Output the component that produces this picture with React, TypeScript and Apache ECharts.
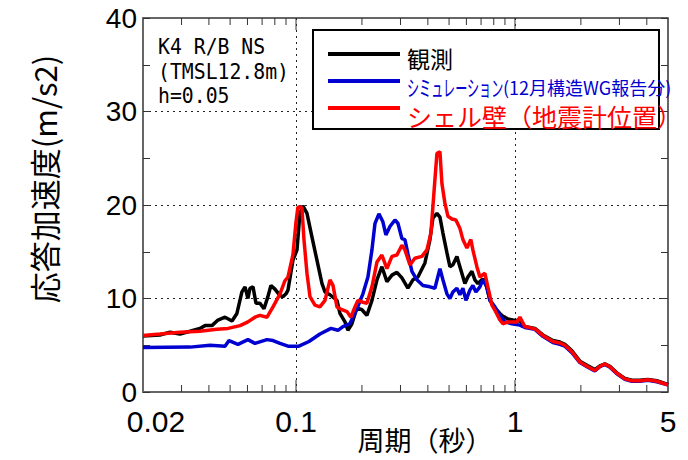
import React, { useEffect, useRef } from "react";
import * as echarts from "echarts";

// ---- data ----
const X_TICK_LABELS = ["0.02", "0.1", "1", "5"];
const Y_TICK_LABELS = [0, 10, 20, 30, 40];
const X_MINOR_TICKS = [0.03, 0.04, 0.05, 0.06, 0.07, 0.08, 0.09, 0.2, 0.3, 0.4, 0.5, 0.6, 0.7, 0.8, 0.9, 2, 3, 4];
const X_MAJOR_TICKS = [0.1, 1];

const OBS_T = [0.02, 0.0239, 0.0266, 0.0295, 0.0328, 0.0364, 0.0384, 0.0413, 0.044, 0.0474, 0.051, 0.0537, 0.0566, 0.0585, 0.0603, 0.0616, 0.0636, 0.0656, 0.0684, 0.0714, 0.0744, 0.0768, 0.0801, 0.0845, 0.0872, 0.09, 0.0919, 0.0968, 0.101, 0.1042, 0.1075, 0.1122, 0.1182, 0.1246, 0.1314, 0.1356, 0.1429, 0.1538, 0.1587, 0.1673, 0.1726, 0.18, 0.1897, 0.2, 0.2107, 0.2222, 0.2342, 0.2467, 0.2601, 0.2742, 0.2889, 0.3045, 0.3243, 0.3419, 0.3603, 0.3879, 0.4089, 0.4218, 0.44, 0.4542, 0.4687, 0.4888, 0.5045, 0.5207, 0.543, 0.5604, 0.5905, 0.6095, 0.6357, 0.6561, 0.6772, 0.7061, 0.7289, 0.7685, 0.8096, 0.8533, 0.8807, 0.8995, 0.9283, 0.9784, 1.053, 1.11, 1.233, 1.341, 1.49, 1.604, 1.69, 1.82, 1.979, 2.153, 2.317, 2.443, 2.574, 2.713, 2.92, 3.177, 3.42, 3.719, 4.045, 4.446, 4.94, 5.0];
const OBS_V = [6.0, 6.1, 6.4, 6.2, 6.5, 6.8, 7.1, 7.1, 7.7, 8.0, 7.6, 8.4, 10.7, 11.25, 10.0, 11.1, 11.25, 9.5, 9.5, 8.9, 10.2, 11.4, 11.0, 10.3, 10.2, 10.5, 10.9, 14.1, 15.2, 19.1, 19.9, 19.1, 16.6, 14.1, 11.6, 10.7, 10.4, 9.8, 8.4, 7.5, 6.6, 7.3, 9.0, 8.8, 8.2, 9.8, 12.0, 13.4, 11.8, 12.5, 12.8, 12.2, 11.1, 12.0, 12.3, 13.8, 16.3, 18.6, 19.1, 18.7, 17.0, 14.9, 13.4, 13.6, 14.5, 13.4, 11.6, 12.3, 12.9, 12.0, 11.6, 12.0, 12.0, 9.8, 9.0, 8.4, 8.1, 8.0, 7.8, 7.7, 7.6, 7.0, 6.8, 6.1, 5.5, 5.35, 5.1, 4.4, 3.3, 2.8, 2.4, 2.8, 3.0, 2.75, 2.05, 1.45, 1.25, 1.25, 1.35, 1.2, 0.85, 0.8];

const SIM_T = [0.02, 0.0328, 0.0405, 0.0474, 0.0494, 0.0543, 0.0603, 0.0649, 0.0737, 0.0785, 0.0845, 0.0919, 0.1031, 0.1146, 0.1286, 0.1444, 0.1554, 0.1638, 0.1762, 0.1897, 0.2021, 0.213, 0.2222, 0.2293, 0.2391, 0.2493, 0.2573, 0.2685, 0.283, 0.292, 0.3045, 0.3143, 0.3243, 0.3383, 0.3565, 0.3798, 0.4089, 0.4308, 0.4542, 0.4687, 0.4888, 0.5045, 0.5207, 0.543, 0.5604, 0.5784, 0.5969, 0.6223, 0.6423, 0.663, 0.6915, 0.7136, 0.7441, 0.7685, 0.8096, 0.8533, 0.8995, 0.9681, 1.053, 1.11, 1.233, 1.341, 1.49, 1.604, 1.69, 1.82, 1.979, 2.153, 2.317, 2.443, 2.574, 2.713, 2.92, 3.177, 3.42, 3.719, 4.045, 4.446, 4.94, 5.0];
const SIM_V = [4.75, 4.8, 5.0, 4.9, 5.5, 5.1, 5.6, 5.2, 5.6, 5.5, 5.2, 4.9, 4.9, 5.4, 6.2, 6.8, 6.6, 7.0, 7.3, 8.9, 10.5, 12.3, 15.2, 18.0, 19.05, 18.2, 16.8, 17.7, 18.4, 18.05, 16.4, 16.3, 14.8, 12.9, 12.0, 11.4, 11.25, 11.1, 13.2, 12.0, 10.5, 10.0, 10.7, 11.1, 10.4, 11.1, 9.8, 10.9, 11.4, 10.7, 11.25, 12.0, 11.25, 9.8, 9.1, 8.2, 7.5, 7.3, 7.15, 6.9, 6.7, 5.95, 5.3, 5.1, 4.9, 4.2, 3.15, 2.65, 2.25, 2.7, 2.95, 2.65, 1.95, 1.35, 1.15, 1.15, 1.25, 1.1, 0.8, 0.75];

const SHELL_T = [0.02, 0.0239, 0.0295, 0.0364, 0.0435, 0.0489, 0.0555, 0.0603, 0.0649, 0.0684, 0.0737, 0.0785, 0.0845, 0.089, 0.0919, 0.0968, 0.0999, 0.102, 0.1064, 0.1087, 0.1122, 0.1158, 0.122, 0.1286, 0.1356, 0.1429, 0.1475, 0.1538, 0.1621, 0.1708, 0.1781, 0.1858, 0.1917, 0.2021, 0.2107, 0.2222, 0.2342, 0.2467, 0.2601, 0.2742, 0.2889, 0.3045, 0.3143, 0.3313, 0.3491, 0.3758, 0.3961, 0.4132, 0.4264, 0.44, 0.4542, 0.4638, 0.4786, 0.494, 0.5152, 0.5374, 0.5604, 0.5784, 0.6032, 0.6288, 0.6423, 0.6699, 0.6915, 0.7289, 0.752, 0.7846, 0.8096, 0.8533, 0.8807, 0.9283, 1.02, 1.053, 1.11, 1.233, 1.341, 1.49, 1.604, 1.69, 1.82, 1.979, 2.153, 2.317, 2.443, 2.574, 2.713, 2.92, 3.177, 3.42, 3.719, 4.045, 4.446, 4.94, 5.0];
const SHELL_V = [6.05, 6.2, 6.4, 6.5, 6.7, 6.8, 7.1, 7.5, 8.0, 8.2, 8.0, 9.1, 10.5, 11.9, 12.3, 14.7, 18.1, 19.8, 19.7, 16.3, 12.7, 10.2, 9.3, 9.1, 9.8, 12.0, 11.4, 9.1, 8.8, 8.6, 8.0, 9.1, 9.8, 9.6, 9.5, 11.25, 13.9, 14.65, 13.2, 14.5, 14.65, 15.7, 15.2, 13.6, 14.3, 14.5, 15.2, 17.0, 21.3, 25.5, 25.7, 22.3, 20.2, 18.8, 18.5, 18.4, 17.5, 16.3, 15.4, 16.3, 15.2, 13.4, 12.3, 12.7, 11.25, 9.3, 8.75, 7.7, 7.3, 7.5, 7.5, 8.0, 7.0, 6.75, 6.05, 5.4, 5.25, 5.0, 4.3, 3.2, 2.7, 2.3, 2.75, 3.0, 2.7, 2.0, 1.4, 1.2, 1.2, 1.3, 1.15, 0.8, 0.75];

const SERIES_NAMES = ["観測", "シミュレーション(12月構造WG報告分)", "シェル壁（地震計位置）"];
const COLORS = ["#000000", "#0000d0", "#ff0000"];

const NUM_FONT = '"Liberation Sans", Arial, sans-serif';
const CJK_FONT = '"Noto Sans CJK JP", "Noto Sans", sans-serif';
const MONO_FONT = '"DejaVu Sans Mono", "Liberation Mono", monospace';

const zip = (t: number[], v: number[]) => t.map((x, i) => [x, v[i]]);

export default function App() {
  const ref = useRef<HTMLDivElement>(null);

  useEffect(() => {
    if (!ref.current) return;
    const chart = echarts.init(ref.current, null, { renderer: "svg" });
    const yMin = Y_TICK_LABELS[0];
    const yMax = Y_TICK_LABELS[Y_TICK_LABELS.length - 1];
    const tickData = [
      ...X_MINOR_TICKS.map((v) => [v, yMin, 0]),
      ...X_MAJOR_TICKS.map((v) => [v, yMin, 1]),
    ];
    const dash = { color: "#222", width: 1, type: [2, 4] as any };

    const option: any = {
      animation: false,
      backgroundColor: "#ffffff",
      grid: {
        left: 143,
        right: 20,
        top: 18,
        bottom: 68,
        show: true,
        borderColor: "#333",
        borderWidth: 1.5,
        backgroundColor: "transparent",
      },
      xAxis: {
        type: "log",
        logBase: 10,
        min: 0.02,
        max: 5,
        axisLine: { show: false },
        axisTick: { show: false },
        splitLine: { show: true, showMinLine: false, showMaxLine: false, lineStyle: dash },
        axisLabel: {
          show: true,
          showMinLabel: true,
          showMaxLabel: true,
          margin: 14,
          color: "#000",
          fontSize: 30,
          fontFamily: NUM_FONT,
          formatter: (v: number, i: number) => {
            const s = String(Number(Number(v).toPrecision(3)));
            const lab = X_TICK_LABELS.includes(s) ? s : s;
            return i === 0 ? `{first|${lab}}` : lab;
          },
          rich: {
            first: { padding: [0, 0, 0, 26], fontSize: 30, fontFamily: NUM_FONT, color: "#000" },
          },
        },
      },
      yAxis: [
        {
          type: "value",
          min: yMin,
          max: yMax,
          interval: 10,
          position: "left",
          axisLine: { show: true, lineStyle: { color: "#666", width: 2 } },
          axisTick: { show: true, inside: true, length: 7, lineStyle: { color: "#333", width: 1 } },
          minorTick: { show: true, splitNumber: 2, length: 7, lineStyle: { color: "#333", width: 1 } },
          splitLine: { show: true, showMinLine: false, showMaxLine: false, lineStyle: dash },
          axisLabel: { margin: 6, color: "#000", fontSize: 28, fontFamily: NUM_FONT },
        },
        {
          type: "value",
          min: yMin,
          max: yMax,
          interval: 10,
          position: "right",
          axisLine: { show: false },
          axisTick: { show: true, inside: true, length: 7, lineStyle: { color: "#333", width: 1 } },
          minorTick: { show: true, splitNumber: 2, length: 7, lineStyle: { color: "#333", width: 1 } },
          splitLine: { show: false },
          axisLabel: { show: false },
        },
      ],
      series: [
        {
          type: "custom",
          silent: true,
          xAxisIndex: 0,
          yAxisIndex: 0,
          data: tickData,
          renderItem: (params: any, api: any) => {
            const v = api.value(0);
            const major = api.value(2) === 1;
            const b = api.coord([v, yMin]);
            const t = api.coord([v, yMax]);
            const len = major ? 12 : 7;
            const style = { stroke: "#333", lineWidth: 1 };
            return {
              type: "group",
              children: [
                { type: "line", shape: { x1: b[0], y1: b[1], x2: b[0], y2: b[1] - len }, style },
                { type: "line", shape: { x1: t[0], y1: t[1], x2: t[0], y2: t[1] + len }, style },
              ],
            };
          },
        },
        {
          name: SERIES_NAMES[0],
          type: "line",
          data: zip(OBS_T, OBS_V),
          showSymbol: false,
          lineStyle: { color: COLORS[0], width: 3.5 },
          z: 3,
        },
        {
          name: SERIES_NAMES[1],
          type: "line",
          data: zip(SIM_T, SIM_V),
          showSymbol: false,
          lineStyle: { color: COLORS[1], width: 3.5 },
          z: 4,
        },
        {
          name: SERIES_NAMES[2],
          type: "line",
          data: zip(SHELL_T, SHELL_V),
          showSymbol: false,
          lineStyle: { color: COLORS[2], width: 3.5 },
          z: 5,
        },
      ],
      graphic: [
        {
          type: "text",
          x: 43,
          y: 179,
          rotation: Math.PI / 2,
          style: {
            text: "応答加速度(m/s2)",
            align: "center",
            verticalAlign: "middle",
            fontSize: 31,
            lineHeight: 34,
            fontFamily: CJK_FONT,
            fill: "#000",
          },
        },
        {
          type: "text",
          x: 425,
          y: 439,
          style: {
            text: "周期（秒）",
            align: "center",
            verticalAlign: "middle",
            fontSize: 27,
            lineHeight: 28,
            fontFamily: CJK_FONT,
            fill: "#000",
          },
        },
        { type: "text", x: 158, y: 47, scaleX: 0.9, style: { text: "K4 R/B NS", align: "left", verticalAlign: "middle", fontSize: 22, fontFamily: MONO_FONT, fill: "#000" } },
        { type: "text", x: 158, y: 72, scaleX: 0.9, style: { text: "(TMSL12.8m)", align: "left", verticalAlign: "middle", fontSize: 22, fontFamily: MONO_FONT, fill: "#000" } },
        { type: "text", x: 158, y: 96, scaleX: 0.9, style: { text: "h=0.05", align: "left", verticalAlign: "middle", fontSize: 22, fontFamily: MONO_FONT, fill: "#000" } },
        {
          type: "rect",
          z: 100,
          shape: { x: 313, y: 30, width: 346, height: 99 },
          style: { fill: "#fff", stroke: "#000", lineWidth: 2 },
        },
        { type: "line", z: 101, shape: { x1: 328, y1: 54, x2: 400, y2: 54 }, style: { stroke: COLORS[0], lineWidth: 4 } },
        { type: "line", z: 101, shape: { x1: 328, y1: 81, x2: 400, y2: 81 }, style: { stroke: COLORS[1], lineWidth: 4 } },
        { type: "line", z: 101, shape: { x1: 328, y1: 108, x2: 400, y2: 108 }, style: { stroke: COLORS[2], lineWidth: 4 } },
        { type: "text", z: 101, x: 407, y: 58, style: { text: SERIES_NAMES[0], align: "left", verticalAlign: "middle", fontSize: 23, fontFamily: CJK_FONT, fill: COLORS[0] } },
        { type: "text", z: 101, x: 407, y: 86, scaleX: 0.55, style: { text: "シミュレーション", align: "left", verticalAlign: "middle", fontSize: 22, fontFamily: CJK_FONT, fill: COLORS[1] } },
        { type: "text", z: 101, x: 503, y: 87, style: { text: "(12月構造WG報告分)", align: "left", verticalAlign: "middle", fontSize: 18, fontFamily: CJK_FONT, fill: COLORS[1] } },
        { type: "text", z: 101, x: 407, y: 116, style: { text: SERIES_NAMES[2], align: "left", verticalAlign: "middle", fontSize: 25, fontFamily: CJK_FONT, fill: COLORS[2] } },
      ],
    };
    chart.setOption(option);
    return () => chart.dispose();
  }, []);

  return (
    <div
      ref={ref}
      style={{ position: "fixed", left: 0, top: 0, width: 688, height: 460, background: "#fff" }}
    />
  );
}
